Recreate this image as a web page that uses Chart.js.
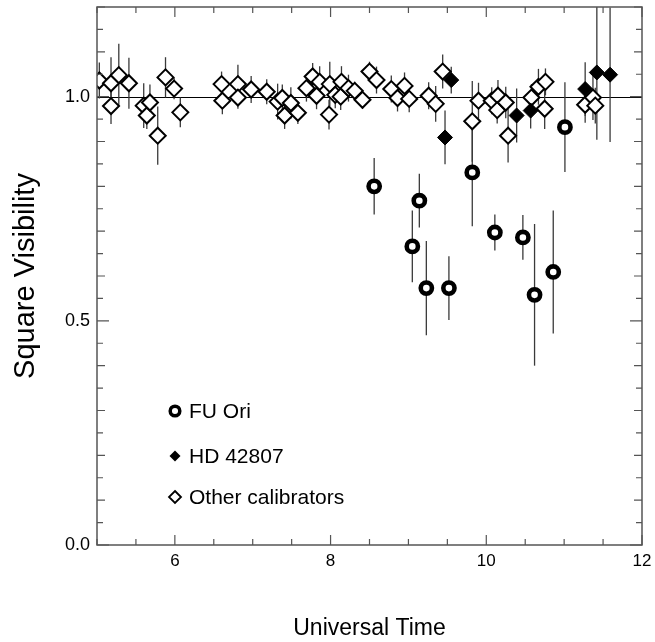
<!DOCTYPE html>
<html><head><meta charset="utf-8">
<script src="https://cdn.jsdelivr.net/npm/chart.js@4.4.1/dist/chart.umd.min.js"></script>
<style>html,body{margin:0;padding:0;background:#fff}canvas{display:block}</style>
</head><body>
<canvas id="c" width="655" height="642"></canvas>
<script>
// ---- data ----
const fuOriTime = [8.56, 9.05, 9.14, 9.23, 9.52, 9.82, 10.11, 10.47, 10.62, 10.86, 11.01];
const fuOriVis  = [0.800, 0.666, 0.768, 0.573, 0.573, 0.831, 0.697, 0.686, 0.558, 0.609, 0.932];
const fuOriErr  = [0.063, 0.080, 0.060, 0.105, 0.071, 0.120, 0.040, 0.050, 0.158, 0.137, 0.100];

const hdTime = [9.47, 9.55, 10.39, 10.57, 11.27, 11.42, 11.59];
const hdVis  = [0.909, 1.037, 0.958, 0.969, 1.017, 1.054, 1.049];
const hdErr  = [0.060, 0.030, 0.060, 0.040, 0.060, 0.150, 0.150];

const calTime = [5.03, 5.18, 5.18, 5.28, 5.41, 5.60, 5.64, 5.68, 5.78, 5.88, 5.99, 6.07,
  6.60, 6.61, 6.81, 6.81, 6.98, 7.18, 7.32, 7.38, 7.41, 7.49, 7.58, 7.69, 7.77, 7.82, 7.86,
  7.99, 7.98, 8.06, 8.14, 8.13, 8.23, 8.31, 8.41, 8.50, 8.59, 8.78, 8.86, 8.95, 9.01, 9.26,
  9.35, 9.44, 9.82, 9.90, 10.07, 10.15, 10.14, 10.25, 10.28, 10.58, 10.67, 10.76, 10.75,
  11.27, 11.37, 11.40];
const calVis = [1.036, 1.030, 0.979, 1.048, 1.030, 0.980, 0.958, 0.987, 0.913, 1.043, 1.018, 0.965,
  1.028, 0.991, 1.028, 0.998, 1.016, 1.011, 0.989, 0.997, 0.958, 0.986, 0.964, 1.019, 1.045, 1.002, 1.033,
  1.028, 0.960, 1.004, 1.033, 1.000, 1.019, 1.013, 0.993, 1.056, 1.037, 1.017, 0.997, 1.024, 0.995, 1.002,
  0.984, 1.056, 0.945, 0.991, 0.991, 1.002, 0.970, 0.987, 0.913, 0.998, 1.022, 1.033, 0.973,
  0.982, 0.998, 0.980];
const calErr = [0.040, 0.058, 0.040, 0.070, 0.057, 0.050, 0.030, 0.040, 0.065, 0.045, 0.024, 0.033,
  0.028, 0.030, 0.043, 0.025, 0.030, 0.028, 0.040, 0.030, 0.030, 0.035, 0.025, 0.030, 0.030, 0.030, 0.035,
  0.050, 0.033, 0.030, 0.035, 0.030, 0.030, 0.020, 0.020, 0.022, 0.030, 0.030, 0.030, 0.030, 0.030, 0.030,
  0.040, 0.038, 0.090, 0.040, 0.030, 0.035, 0.030, 0.035, 0.060, 0.030, 0.040, 0.030, 0.045,
  0.040, 0.050, 0.040];

const xTickLabels = [6, 8, 10, 12];
const yTickLabels = [0.0, 0.5, 1.0];
const xLabel = 'Universal Time';
const yLabel = 'Square Visibility';
const seriesNames = ['FU Ori', 'HD 42807', 'Other calibrators'];

const FONT = "'Liberation Sans', Arial, Helvetica, sans-serif";
const pts = (xs, ys) => xs.map((x, i) => ({x, y: ys[i]}));

const errorBars = {
  id: 'errorBars',
  beforeDatasetsDraw(chart) {
    const {ctx, chartArea: a, scales: {x, y}} = chart;
    ctx.save();
    ctx.beginPath(); ctx.rect(a.left, a.top, a.right - a.left, a.bottom - a.top); ctx.clip();
    ctx.strokeStyle = '#000'; ctx.lineWidth = 1;
    const y1 = Math.round(y.getPixelForValue(1.0)) + 0.5;
    ctx.beginPath(); ctx.moveTo(a.left, y1); ctx.lineTo(a.right, y1); ctx.stroke();
    chart.data.datasets.forEach(ds => {
      ctx.strokeStyle = '#3a3a3a'; ctx.lineWidth = 1.3;
      ds.data.forEach((p, i) => {
        const e = ds.errors[i];
        const px = x.getPixelForValue(p.x);
        ctx.beginPath();
        ctx.moveTo(px, y.getPixelForValue(p.y - e));
        ctx.lineTo(px, y.getPixelForValue(p.y + e));
        ctx.stroke();
      });
    });
    ctx.restore();
  }
};

const frameTicks = {
  id: 'frameTicks',
  afterDraw(chart) {
    const {ctx, chartArea: a, scales: {x, y}} = chart;
    ctx.save();
    ctx.strokeStyle = '#555'; ctx.lineWidth = 1.5;
    ctx.strokeRect(a.left, a.top, a.right - a.left, a.bottom - a.top);
    ctx.lineWidth = 1.2;
    ctx.beginPath();
    for (let v = 5; v <= 12.0001; v += 0.5) {
      const px = x.getPixelForValue(v);
      const L = (Math.abs(v % 2) < 1e-6) ? 10 : 6;
      ctx.moveTo(px, a.bottom); ctx.lineTo(px, a.bottom - L);
      ctx.moveTo(px, a.top); ctx.lineTo(px, a.top + L);
    }
    for (let k = 0; k <= 24; k++) {
      const v = k * 0.05;
      const py = y.getPixelForValue(v);
      const L = (k % 10 === 0) ? 12 : (k % 2 === 0 ? 8 : 6);
      ctx.moveTo(a.left, py); ctx.lineTo(a.left + L, py);
      ctx.moveTo(a.right, py); ctx.lineTo(a.right - L, py);
    }
    ctx.stroke();

    // legend
    const lx = 175, rows = [411, 456, 497];
    ctx.fillStyle = '#000'; ctx.strokeStyle = '#000';
    ctx.lineWidth = 3.5;
    ctx.beginPath(); ctx.arc(lx, rows[0], 4.8, 0, Math.PI * 2); ctx.stroke();
    ctx.beginPath();
    ctx.moveTo(lx, rows[1] - 5.5); ctx.lineTo(lx + 5.5, rows[1]); ctx.lineTo(lx, rows[1] + 5.5); ctx.lineTo(lx - 5.5, rows[1]);
    ctx.closePath(); ctx.fill();
    ctx.lineWidth = 1.8;
    ctx.beginPath();
    ctx.moveTo(lx, rows[2] - 6); ctx.lineTo(lx + 6, rows[2]); ctx.lineTo(lx, rows[2] + 6); ctx.lineTo(lx - 6, rows[2]);
    ctx.closePath(); ctx.stroke();
    ctx.font = '21px ' + FONT; ctx.textBaseline = 'middle'; ctx.textAlign = 'left';
    chart.data.datasets.forEach((ds, i) => ctx.fillText(ds.label, 189, rows[i] + 1));
    ctx.restore();
  }
};

const zeroPad = s => { s.paddingTop = 0; s.paddingBottom = 0; s.paddingLeft = 0; s.paddingRight = 0; };

new Chart(document.getElementById('c'), {
  type: 'scatter',
  data: {
    datasets: [
      { label: seriesNames[0], data: pts(fuOriTime, fuOriVis), errors: fuOriErr, order: 0,
        pointStyle: 'circle', pointRadius: 5.6, borderWidth: 4.6, borderColor: '#000', backgroundColor: '#fff' },
      { label: seriesNames[1], data: pts(hdTime, hdVis), errors: hdErr, order: 1,
        pointStyle: 'rectRot', pointRadius: 7.5, borderWidth: 1, borderColor: '#000', backgroundColor: '#000' },
      { label: seriesNames[2], data: pts(calTime, calVis), errors: calErr, order: 2,
        pointStyle: 'rectRot', pointRadius: 8, borderWidth: 2, borderColor: '#000', backgroundColor: '#fff' }
    ]
  },
  options: {
    responsive: false, animation: false,
    layout: { autoPadding: false, padding: { top: 7, right: 13, left: 0, bottom: 0 } },
    plugins: { legend: { display: false }, tooltip: { enabled: false } },
    elements: { point: { hoverRadius: 8 } },
    scales: {
      x: {
        type: 'linear', min: 5, max: 12,
        afterBuildTicks: s => { s.ticks = xTickLabels.map(v => ({ value: v })); },
        afterFit: s => { s.height = 97; zeroPad(s); },
        grid: { display: false, drawTicks: false }, border: { display: false },
        ticks: { color: '#000', padding: 6, maxRotation: 0, autoSkip: false,
          font: { family: FONT, size: 17 }, callback: v => String(v) },
        title: { display: true, text: xLabel, color: '#000', font: { family: FONT, size: 23 }, padding: { top: 0, bottom: 0 } }
      },
      y: {
        type: 'linear', min: 0, max: 1.2,
        afterBuildTicks: s => { s.ticks = yTickLabels.map(v => ({ value: v })); },
        afterFit: s => { s.width = 97; zeroPad(s); },
        grid: { display: false, drawTicks: false }, border: { display: false },
        ticks: { color: '#000', padding: 7, font: { family: FONT, size: 18 }, callback: v => Number(v).toFixed(1) },
        title: { display: true, text: yLabel, color: '#000', font: { family: FONT, size: 29 }, padding: { top: 9, bottom: 0 } }
      }
    }
  },
  plugins: [errorBars, frameTicks]
});
</script>
</body></html>
